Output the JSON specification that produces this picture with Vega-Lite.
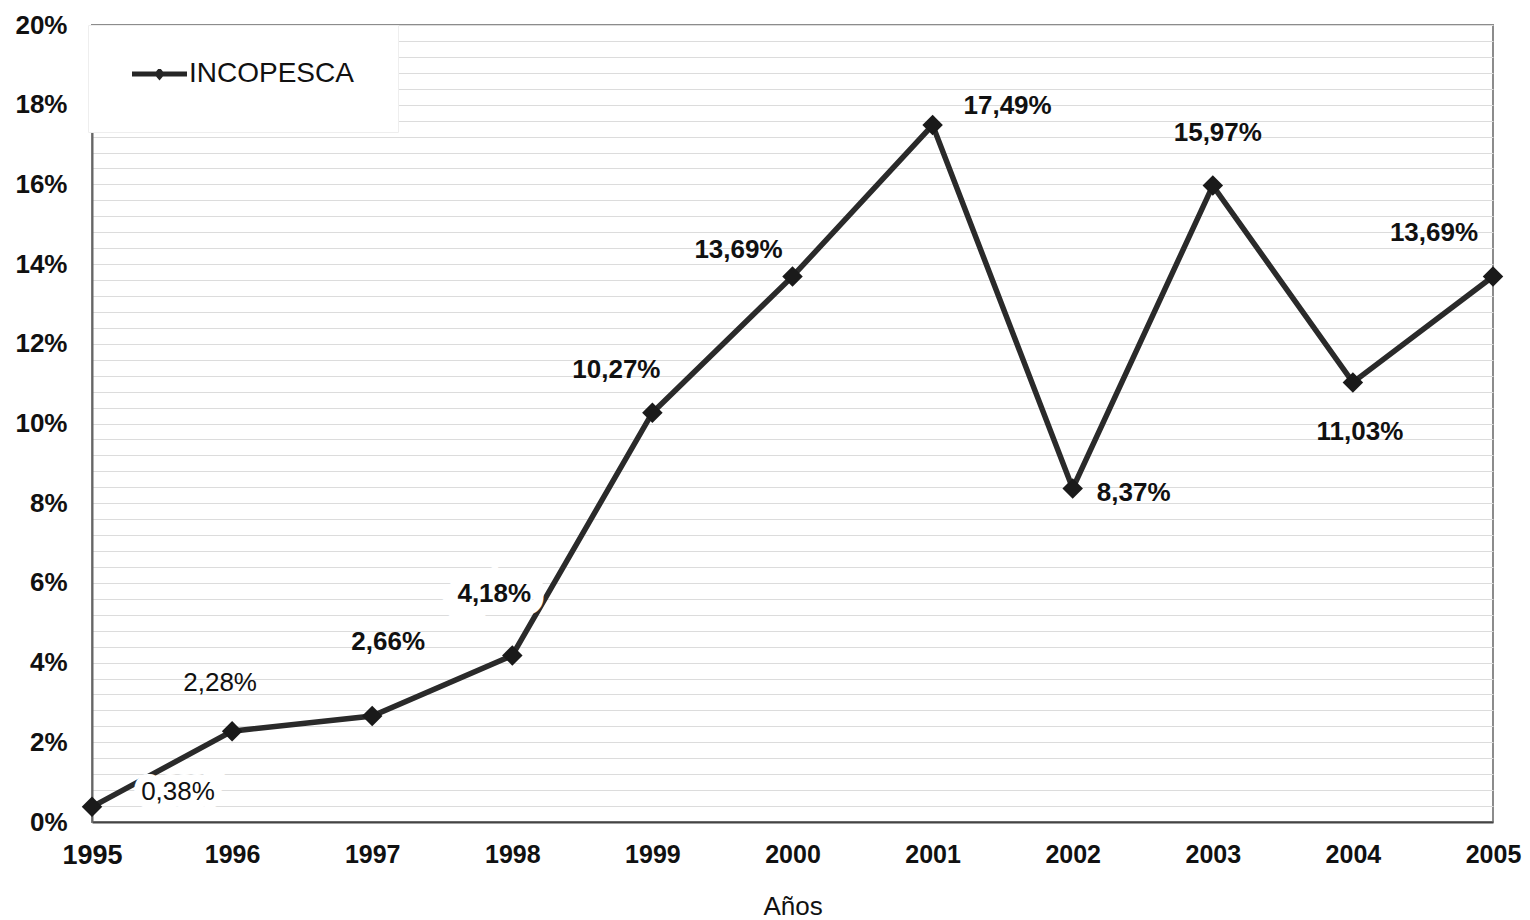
{
  "$schema": "https://vega.github.io/schema/vega-lite/v6.json",
  "width": 1401,
  "height": 797,
  "autosize": {"type": "none"},
  "padding": {"left": 92, "top": 25, "right": 37, "bottom": 98},
  "background": "white",
  "config": {
    "font": "Liberation Sans",
    "view": {"stroke": "#8c8c8c", "strokeWidth": 2}
  },
  "data": {
    "values": [
      {"year": 1995, "value": 0.0038, "label": "0,38%"},
      {"year": 1996, "value": 0.0228, "label": "2,28%"},
      {"year": 1997, "value": 0.0266, "label": "2,66%"},
      {"year": 1998, "value": 0.0418, "label": "4,18%"},
      {"year": 1999, "value": 0.1027, "label": "10,27%"},
      {"year": 2000, "value": 0.1369, "label": "13,69%"},
      {"year": 2001, "value": 0.1749, "label": "17,49%"},
      {"year": 2002, "value": 0.0837, "label": "8,37%"},
      {"year": 2003, "value": 0.1597, "label": "15,97%"},
      {"year": 2004, "value": 0.1103, "label": "11,03%"},
      {"year": 2005, "value": 0.1369, "label": "13,69%"}
    ]
  },
  "encoding": {
    "x": {
      "field": "year", "type": "quantitative",
      "scale": {"domain": [1995, 2005], "nice": false, "zero": false},
      "axis": {
        "title": "Años", "titleFont": "Liberation Sans", "titleFontSize": 26, "titleFontWeight": "normal", "titleColor": "#111", "titlePadding": 25,
        "values": [1995, 1996, 1997, 1998, 1999, 2000, 2001, 2002, 2003, 2004, 2005],
        "format": "d", "labelFlush": false, "labelOverlap": false,
        "labelFontSize": {"condition": {"test": "datum.value == 1995", "value": 27}, "value": 25},
        "labelFontWeight": {"condition": {"test": "datum.value == 1995", "value": 900}, "value": "bold"},
        "labelColor": "#111", "labelPadding": 20,
        "ticks": false, "grid": false,
        "domainColor": "#444", "domainWidth": 2
      }
    },
    "y": {
      "field": "value", "type": "quantitative",
      "scale": {"domain": [0, 0.2], "nice": false},
      "axis": {
        "title": null,
        "values": [0,0.004,0.008,0.012,0.016,0.02,0.024,0.028,0.032,0.036,0.04,0.044,0.048,0.052,0.056,0.06,0.064,0.068,0.072,0.076,0.08,0.084,0.088,0.092,0.096,0.1,0.104,0.108,0.112,0.116,0.12,0.124,0.128,0.132,0.136,0.14,0.144,0.148,0.152,0.156,0.16,0.164,0.168,0.172,0.176,0.18,0.184,0.188,0.192,0.196,0.2],
        "labelExpr": "abs(datum.value*50 - round(datum.value*50)) < 0.001 ? format(datum.value, '.0%') : ''",
        "labelFontSize": 26, "labelFontWeight": "bold", "labelColor": "#111", "labelPadding": 25,
        "labelOverlap": false, "labelFlush": false,
        "ticks": false,
        "grid": true, "gridColor": "#dcdcdc", "gridWidth": 1.2,
        "domainColor": "#666", "domainWidth": 2
      }
    }
  },
  "layer": [
    {
      "mark": {"type": "line", "strokeWidth": 5.5},
      "encoding": {
        "color": {
          "datum": "INCOPESCA", "type": "nominal",
          "scale": {"range": ["#2a2a2a"]},
          "legend": {
            "title": null, "orient": "none", "legendX": -4, "legendY": 0,
            "fillColor": "white", "strokeColor": "#eeeeee", "padding": 44, "clipHeight": 10,
            "labelFont": "Liberation Sans", "labelFontSize": 28, "labelColor": "#111", "labelOffset": 2, "labelLimit": 400,
            "symbolType": "M-1,-0.09L1,-0.09L1,0.09L-1,0.09Z M0,-0.24L0.2,0L0,0.24L-0.2,0Z",
            "symbolSize": 3025, "symbolStrokeWidth": 0,
            "encode": {"symbols": {"update": {"fill": {"value": "#262626"}, "stroke": {"value": "#262626"}, "strokeWidth": {"value": 0}}}}
          }
        }
      }
    },
    {
      "transform": [{"filter": "datum.year == 1995"}],
      "mark": {"type": "text", "dx": 86, "dy": -15, "fontSize": 26, "fontWeight": "normal", "stroke": "white", "strokeWidth": 16, "color": "white"},
      "encoding": {"text": {"field": "label"}}
    },
    {
      "transform": [{"filter": "datum.year == 1998"}],
      "mark": {"type": "text", "dx": -18, "dy": -61, "fontSize": 26, "fontWeight": "bold", "stroke": "white", "strokeWidth": 26, "color": "white"},
      "encoding": {"text": {"field": "label"}}
    },
    {
      "mark": {"type": "point", "shape": "diamond", "filled": true, "size": 420, "color": "#1a1a1a", "opacity": 1}
    },
    {
      "transform": [{"filter": "datum.year == 1995"}],
      "mark": {"type": "text", "dx": 86, "dy": -15, "fontSize": 26, "fontWeight": "normal", "color": "#111"},
      "encoding": {"text": {"field": "label"}}
    },
    {
      "transform": [{"filter": "datum.year == 1996"}],
      "mark": {"type": "text", "dx": -12, "dy": -48, "fontSize": 26, "fontWeight": "normal", "color": "#111"},
      "encoding": {"text": {"field": "label"}}
    },
    {
      "transform": [{"filter": "datum.year == 1997"}],
      "mark": {"type": "text", "dx": 16, "dy": -74, "fontSize": 26, "fontWeight": "bold", "color": "#111"},
      "encoding": {"text": {"field": "label"}}
    },
    {
      "transform": [{"filter": "datum.year == 1998"}],
      "mark": {"type": "text", "dx": -18, "dy": -61, "fontSize": 26, "fontWeight": "bold", "color": "#111"},
      "encoding": {"text": {"field": "label"}}
    },
    {
      "transform": [{"filter": "datum.year == 1999"}],
      "mark": {"type": "text", "dx": -36, "dy": -43, "fontSize": 26, "fontWeight": "bold", "color": "#111"},
      "encoding": {"text": {"field": "label"}}
    },
    {
      "transform": [{"filter": "datum.year == 2000"}],
      "mark": {"type": "text", "dx": -54, "dy": -26, "fontSize": 26, "fontWeight": "bold", "color": "#111"},
      "encoding": {"text": {"field": "label"}}
    },
    {
      "transform": [{"filter": "datum.year == 2001"}],
      "mark": {"type": "text", "dx": 75, "dy": -19, "fontSize": 26, "fontWeight": "bold", "color": "#111"},
      "encoding": {"text": {"field": "label"}}
    },
    {
      "transform": [{"filter": "datum.year == 2002"}],
      "mark": {"type": "text", "dx": 61, "dy": 5, "fontSize": 26, "fontWeight": "bold", "color": "#111"},
      "encoding": {"text": {"field": "label"}}
    },
    {
      "transform": [{"filter": "datum.year == 2003"}],
      "mark": {"type": "text", "dx": 5, "dy": -53, "fontSize": 26, "fontWeight": "bold", "color": "#111"},
      "encoding": {"text": {"field": "label"}}
    },
    {
      "transform": [{"filter": "datum.year == 2004"}],
      "mark": {"type": "text", "dx": 7, "dy": 50, "fontSize": 26, "fontWeight": "bold", "color": "#111"},
      "encoding": {"text": {"field": "label"}}
    },
    {
      "transform": [{"filter": "datum.year == 2005"}],
      "mark": {"type": "text", "dx": -59, "dy": -43, "fontSize": 26, "fontWeight": "bold", "color": "#111"},
      "encoding": {"text": {"field": "label"}}
    }
  ]
}
